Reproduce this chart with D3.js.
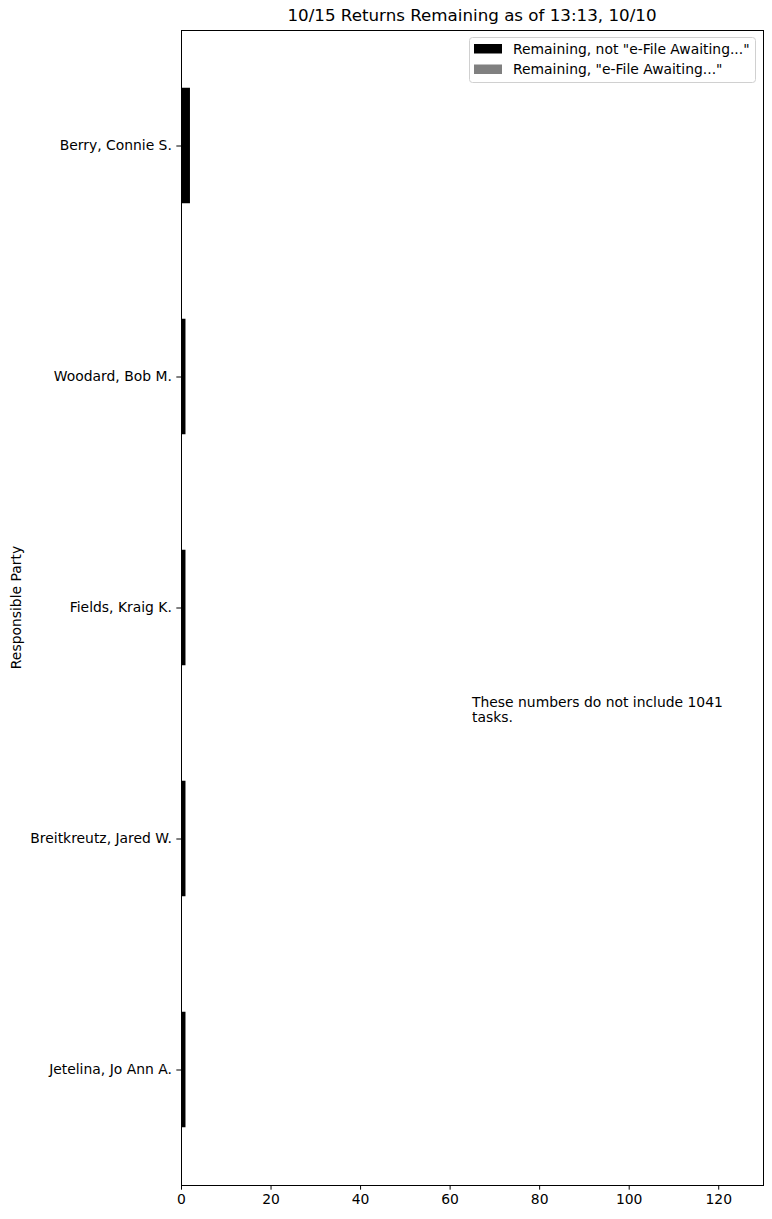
<!DOCTYPE html>
<html><head><meta charset="utf-8">
<script src="https://cdn.jsdelivr.net/npm/d3@7"></script>
<style>body{margin:0;background:#fff}svg{font-family:"DejaVu Sans",sans-serif}</style>
</head><body><div id="chart"></div>
<script>
const categories = ["Jetelina, Jo Ann A.", "Breitkreutz, Jared W.", "Fields, Kraig K.", "Woodard, Bob M.", "Berry, Connie S."];
const notEfile = [1, 1, 1, 1, 2];
const efile = [0, 0, 0, 0, 0];
const xTicks = [0, 20, 40, 60, 80, 100, 120];
const seriesNames = ['Remaining, not "e-File Awaiting..."', 'Remaining, "e-File Awaiting..."'];
const seriesColors = ["#000000", "#808080"];
const title = "10/15 Returns Remaining as of 13:13, 10/10";
const note = ["These numbers do not include 1041", "tasks."];

const W = 772, H = 1219;
const FS = 13.9, TFS = 16.7;
const m = {left: 181, right: 763, top: 30, bottom: 1185};
const svg = d3.select("#chart").append("svg").attr("width", W).attr("height", H);

const x = d3.scaleLinear().domain([0, 130]).range([m.left, m.right]);
const y = d3.scaleLinear().domain([-0.5, categories.length - 0.5]).range([m.bottom, m.top]);
const barH = y(0) - y(0.5);

// bars
const g = svg.append("g");
categories.forEach((c, i) => {
  g.append("rect").attr("x", x(0)).attr("y", y(i) - barH/2)
    .attr("width", x(notEfile[i]) - x(0)).attr("height", barH).attr("fill", seriesColors[0]);
  if (efile[i] > 0) {
    g.append("rect").attr("x", x(notEfile[i])).attr("y", y(i) - barH/2)
      .attr("width", x(notEfile[i] + efile[i]) - x(notEfile[i])).attr("height", barH).attr("fill", seriesColors[1]);
  }
});

// axes
const xAxis = d3.axisBottom(x).tickValues(xTicks).tickSizeOuter(0).tickSize(4.67).tickPadding(4.5);
const xg = svg.append("g").attr("transform", `translate(0,${m.bottom})`).call(xAxis);
xg.select(".domain").remove();
xg.selectAll("text").attr("font-size", FS).attr("fill", "#000").attr("font-family", "DejaVu Sans");
xg.selectAll("line").attr("stroke", "#000").attr("stroke-width", 1);

const yAxis = d3.axisLeft(y).tickValues(d3.range(categories.length)).tickFormat(i => categories[i]).tickSize(4.67).tickPadding(4.5);
const yg = svg.append("g").attr("transform", `translate(${m.left},0)`).call(yAxis);
yg.select(".domain").remove();
yg.selectAll("text").attr("font-size", FS).attr("fill", "#000").attr("font-family", "DejaVu Sans");
yg.selectAll("line").attr("stroke", "#000").attr("stroke-width", 1);

// frame
svg.append("rect").attr("x", m.left).attr("y", m.top).attr("width", m.right - m.left).attr("height", m.bottom - m.top)
  .attr("fill", "none").attr("stroke", "#000").attr("stroke-width", 1).attr("shape-rendering", "crispEdges");

// title
svg.append("text").attr("x", (m.left + m.right)/2).attr("y", 21).attr("text-anchor", "middle")
  .attr("font-size", TFS).attr("fill", "#000").text(title);

// y label
svg.append("text").attr("transform", `translate(21,${(m.top + m.bottom)/2}) rotate(-90)`)
  .attr("text-anchor", "middle").attr("font-size", FS).attr("fill", "#000").text("Responsible Party");

// note
const nt = svg.append("text").attr("x", x(65)).attr("y", y(1.5) - 16.5).attr("font-size", FS).attr("fill", "#000");
note.forEach((t, i) => nt.append("tspan").attr("x", x(65)).attr("dy", i === 0 ? 0 : 15.8).text(t));

// legend
const lg = svg.append("g");
lg.append("rect").attr("x", 469.5).attr("y", 37.5).attr("width", 286).attr("height", 45).attr("rx", 3)
  .attr("fill", "#fff").attr("fill-opacity", 0.8).attr("stroke", "#d0d0d0");
seriesNames.forEach((s, i) => {
  lg.append("rect").attr("x", 474).attr("y", 44 + i*20.5).attr("width", 28).attr("height", 9.5).attr("fill", seriesColors[i]);
  lg.append("text").attr("x", 513).attr("y", 53.5 + i*20.5).attr("font-size", FS).attr("fill", "#000").text(s);
});
</script></body></html>
